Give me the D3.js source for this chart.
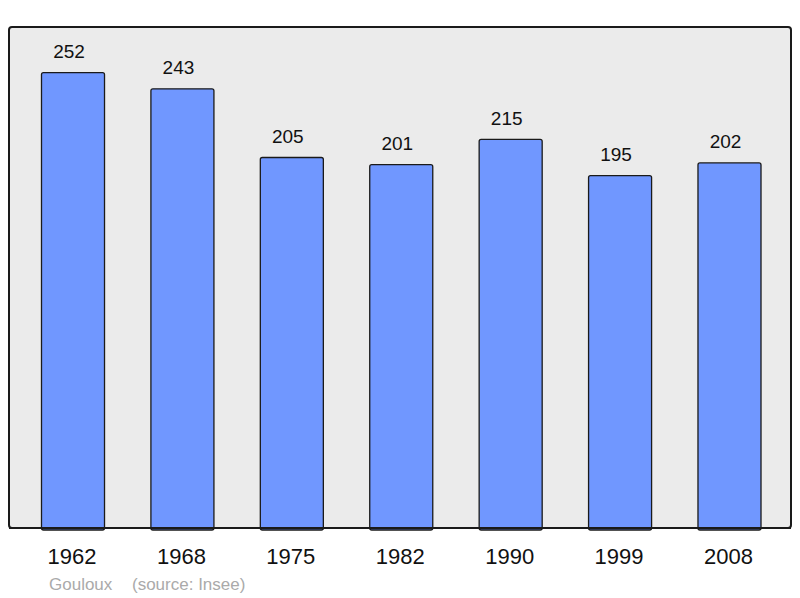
<!DOCTYPE html>
<html><head><meta charset="utf-8">
<script src="https://cdn.jsdelivr.net/npm/d3@7"></script>
<style>body{margin:0;background:#fff}svg{display:block}</style>
</head><body>
<script>
const years = ["1962","1968","1975","1982","1990","1999","2008"];
const population = [252,243,205,201,215,195,202];
const commune = "Gouloux";
const source = "(source: Insee)";

const W=800,H=598;
const svg=d3.select("body").append("svg").attr("width",W).attr("height",H);
const panel={x:9,y:27,w:782,h:501};
svg.append("rect").attr("x",panel.x).attr("y",panel.y).attr("width",panel.w).attr("height",panel.h)
  .attr("rx",3).attr("fill","#ebebeb").attr("stroke","#1a1a1a").attr("stroke-width",2);

const x=d3.scaleBand().domain(years).range([18.3,784.2]).paddingInner(0.424).paddingOuter(0.212);
const y=d3.scaleLinear().domain([0,d3.max(population)*1.1]).range([panel.y+panel.h,panel.y]);

const g=svg.append("g");
g.selectAll("rect.bar").data(population).join("rect").attr("class","bar")
  .attr("x",(d,i)=>x(years[i])).attr("width",x.bandwidth())
  .attr("y",d=>y(d)).attr("height",d=>y(0)-y(d)+2)
  .attr("rx",2).attr("fill","#7097ff").attr("stroke","#1a1a1a").attr("stroke-width",1.3);

svg.append("line").attr("x1",panel.x).attr("x2",panel.x+panel.w).attr("y1",panel.y+panel.h).attr("y2",panel.y+panel.h)
  .attr("stroke","#1a1a1a").attr("stroke-width",2);

g.selectAll("text.val").data(population).join("text").attr("class","val")
  .attr("x",(d,i)=>x(years[i])+x.bandwidth()/2-4).attr("y",d=>y(d)-14.5)
  .attr("text-anchor","middle").attr("font-family","Liberation Sans, Arial, sans-serif")
  .attr("font-size",19).attr("fill","#111").text(d=>d);

const xAxis=d3.axisBottom(x).tickSize(0).tickPadding(0);
const ax=svg.append("g").attr("transform",`translate(0,${panel.y+panel.h})`).call(xAxis);
ax.select(".domain").remove();
ax.selectAll("text").attr("font-family","Liberation Sans, Arial, sans-serif").attr("font-size",22)
  .attr("fill","#111").attr("dy",null).attr("y",35.5).attr("dx",-1);

svg.append("text").attr("x",49).attr("y",590).attr("font-family","Liberation Sans, Arial, sans-serif")
  .attr("font-size",17).attr("fill","#aaaaaa").text(commune);
svg.append("text").attr("x",132).attr("y",590).attr("font-family","Liberation Sans, Arial, sans-serif")
  .attr("font-size",17).attr("fill","#aaaaaa").text(source);
</script>
</body></html>
